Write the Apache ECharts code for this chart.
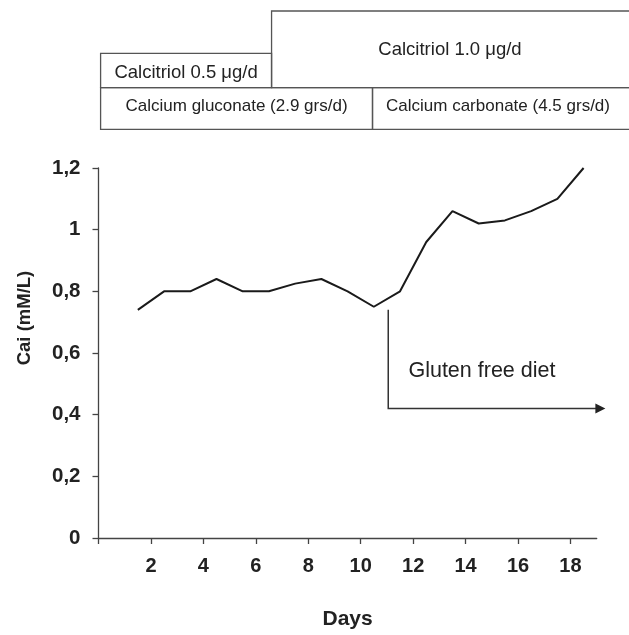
<!DOCTYPE html>
<html>
<head>
<meta charset="utf-8">
<script src="https://cdn.jsdelivr.net/npm/echarts@6/dist/echarts.min.js"></script>
<style>
html,body{margin:0;padding:0;background:#fff;}
#chart{width:629px;height:635px;}
</style>
</head>
<body>
<div id="chart"></div>
<script>
// ---- data ----
const days = [1.5, 2.5, 3.5, 4.5, 5.5, 6.5, 7.5, 8.5, 9.5, 10.5, 11.5, 12.5, 13.5, 14.5, 15.5, 16.5, 17.5, 18.5];
const cai  = [0.74, 0.80, 0.80, 0.84, 0.80, 0.80, 0.825, 0.84, 0.80, 0.75, 0.80, 0.96, 1.06, 1.02, 1.03, 1.06, 1.10, 1.20];
const xTickValues = [0, 2, 4, 6, 8, 10, 12, 14, 16, 18];
const xTickLabels = [2, 4, 6, 8, 10, 12, 14, 16, 18];
const yTickLabels = ['0', '0,2', '0,4', '0,6', '0,8', '1', '1,2'];
const calcitriolLabels = ['Calcitriol 0.5 \u03bcg/d', 'Calcitriol 1.0 \u03bcg/d'];
const calcitriolBounds = [0.08, 6.6, 20.3];
const calciumLabels = ['Calcium gluconate (2.9 grs/d)', 'Calcium carbonate (4.5 grs/d)'];
const calciumBounds = [0.08, 10.45, 20.3];
const dietLabel = 'Gluten free diet';
const dietStart = [11.05, 0.74];
const dietArrow = [11.05, 0.42, 19.33];
const dietLabelPos = [11.82, 0.542];

const FONT = '"Liberation Sans", Arial, Helvetica, sans-serif';
const chart = echarts.init(document.getElementById('chart'), null, {renderer: 'canvas'});

chart.setOption({
  animation: false,
  backgroundColor: '#fff',
  grid: {left: 98.5, right: 32.3, top: 168, bottom: 94.5, containLabel: false},
  xAxis: {
    type: 'value', min: 0, max: 19, interval: 2,
    name: 'Days', nameLocation: 'middle', nameGap: 71,
    nameTextStyle: {fontFamily: FONT, fontWeight: 'bold', fontSize: 21, color: '#222'},
    axisLine: {lineStyle: {color: '#444', width: 1.3}},
    axisTick: {show: true, length: 6, lineStyle: {color: '#444', width: 1.3}, customValues: xTickValues},
    axisLabel: {fontFamily: FONT, fontWeight: 'bold', fontSize: 20, color: '#222', margin: 18, customValues: xTickLabels},
    splitLine: {show: false}
  },
  yAxis: {
    type: 'value', min: 0, max: 1.2, interval: 0.2,
    name: 'Cai (mM/L)', nameLocation: 'middle', nameGap: 64, nameRotate: 90,
    nameTextStyle: {fontFamily: FONT, fontWeight: 'bold', fontSize: 18.5, color: '#222', padding: [0, 0, 0, 70]},
    axisLine: {show: true, lineStyle: {color: '#444', width: 1.3}},
    axisTick: {show: true, length: 6, lineStyle: {color: '#444', width: 1.3}},
    axisLabel: {fontFamily: FONT, fontWeight: 'bold', fontSize: 20.5, color: '#222', margin: 18,
      formatter: v => yTickLabels[Math.round(v / 0.2)]},
    splitLine: {show: false}
  },
  series: [
    {
      type: 'line', data: days.map((d, i) => [d, cai[i]]),
      symbol: 'none', lineStyle: {color: '#1a1a1a', width: 2}, z: 3
    }
  ]
});

function px(x, y) { return chart.convertToPixel({gridIndex: 0}, [x, y]); }

const row1Top = 53.3, row1TopWide = 11, rowMid = 87.7, rowBottom = 129.3;
const elements = [];
const boxStyle = {fill: 'none', stroke: '#555', lineWidth: 1.3};
const textEl = (t, x, y, size) => ({type: 'text', x: x, y: y, style: {text: t, font: size + 'px ' + FONT, fill: '#222', align: 'center', verticalAlign: 'middle'}});

// Calcitriol row
for (let i = 0; i < calcitriolLabels.length; i++) {
  const x0 = px(calcitriolBounds[i], 0)[0], x1 = px(calcitriolBounds[i + 1], 0)[0];
  const top = i === 0 ? row1Top : row1TopWide;
  elements.push({type: 'rect', shape: {x: x0, y: top, width: x1 - x0, height: rowMid - top}, style: boxStyle});
  elements.push(textEl(calcitriolLabels[i], i === 0 ? (x0 + x1) / 2 : 450, i === 0 ? (top + rowMid) / 2 + 2 : 50, 18.5));
}
// Calcium row
for (let i = 0; i < calciumLabels.length; i++) {
  const x0 = px(calciumBounds[i], 0)[0], x1 = px(calciumBounds[i + 1], 0)[0];
  elements.push({type: 'rect', shape: {x: x0, y: rowMid, width: x1 - x0, height: rowBottom - rowMid}, style: boxStyle});
  elements.push(textEl(calciumLabels[i], i === 0 ? (x0 + x1) / 2 : 498, (rowMid + rowBottom) / 2 - 2, 17));
}
// Gluten free diet arrow
const a0 = px(dietStart[0], dietStart[1]);
const a1 = px(dietArrow[0], dietArrow[1]);
const a2 = px(dietArrow[2], dietArrow[1]);
const headLen = 10, headHalf = 5;
elements.push({type: 'polyline', shape: {points: [a0, a1, [a2[0] - headLen + 1, a2[1]]]}, style: {stroke: '#333', lineWidth: 1.5, fill: 'none'}});
elements.push({type: 'polygon', shape: {points: [[a2[0], a2[1]], [a2[0] - headLen, a2[1] - headHalf], [a2[0] - headLen, a2[1] + headHalf]]}, style: {fill: '#222'}});
const lp = px(dietLabelPos[0], dietLabelPos[1]);
elements.push({type: 'text', x: lp[0], y: lp[1], style: {text: dietLabel, font: '21.5px ' + FONT, fill: '#222', align: 'left', verticalAlign: 'middle'}});

chart.setOption({graphic: {elements: elements}});
</script>
</body>
</html>
